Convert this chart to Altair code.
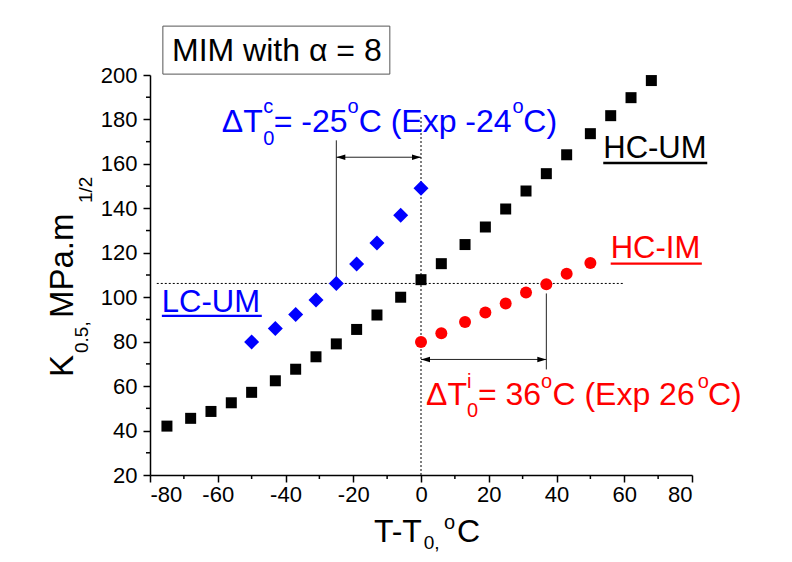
import altair as alt
import pandas as pd

# ---------------- data ----------------
hc_um_t = [-75, -68, -62, -56, -50, -43, -37, -31, -25, -19, -13, -6,
           0, 6, 13, 19, 25, 31, 37, 43, 50, 56, 62, 68]
hc_um_k = [42.0, 45.5, 48.6, 52.5, 57.2, 62.4, 67.6, 73.2, 79.0, 85.5, 92.0, 100.0,
           107.9, 115.1, 123.7, 131.6, 139.7, 147.8, 155.6, 164.1, 173.6, 181.7, 189.8, 197.5]
lc_um_t = [-50, -43, -37, -31, -25, -19, -13, -6, 0]
lc_um_k = [79.9, 85.9, 92.2, 98.7, 106.2, 115.0, 124.4, 136.9, 149.0]
hc_im_t = [0, 6, 13, 19, 25, 31, 37, 43, 50]
hc_im_k = [79.8, 83.8, 88.8, 93.1, 97.2, 102.1, 105.8, 110.6, 115.4]

x_ticks = [-80, -60, -40, -20, 0, 20, 40, 60, 80]
x_minor = [-70, -50, -30, -10, 10, 30, 50, 70]
y_ticks = [20, 40, 60, 80, 100, 120, 140, 160, 180, 200]
y_minor = [30, 50, 70, 90, 110, 130, 150, 170, 190]

k_ref = 106.2        # reference toughness level
dt_c = -25           # shift LC-UM
dt_i = 37            # shift HC-IM

FONT = "Liberation Sans"
BLUE = "#0000FF"
RED = "#FF0000"
BLACK = "#000000"

# ---------------- scales ----------------
xs = alt.Scale(domain=[-80, 80], nice=False, zero=False)
ys = alt.Scale(domain=[20, 200], nice=False, zero=False)

base_x_axis = alt.Axis(values=x_ticks, tickSize=7, tickWidth=1.5, domainWidth=1.5,
                       domainColor=BLACK, tickColor=BLACK, labelColor=BLACK,
                       labelFont=FONT, labelFontSize=22, labelPadding=2, grid=False,
                       title=None, labelExpr="datum.value + ''")
base_y_axis = alt.Axis(values=y_ticks, tickSize=7, tickWidth=1.5, domainWidth=1.5,
                       domainColor=BLACK, tickColor=BLACK, labelColor=BLACK,
                       labelFont=FONT, labelFontSize=22, labelPadding=6, grid=False,
                       title=None, labelExpr="datum.value + ''")

hc_um = pd.DataFrame({"t": hc_um_t, "k": hc_um_k})
lc_um = pd.DataFrame({"t": lc_um_t, "k": lc_um_k})
hc_im = pd.DataFrame({"t": hc_im_t, "k": hc_im_k})

axes_layer = alt.Chart(hc_um).mark_point(opacity=0).encode(
    x=alt.X("t:Q", scale=xs, axis=base_x_axis),
    y=alt.Y("k:Q", scale=ys, axis=base_y_axis),
)

# minor ticks
xminor = alt.Chart(pd.DataFrame({"v": x_minor})).mark_rule(color=BLACK, strokeWidth=1.5).encode(
    x=alt.X("v:Q", scale=xs), y=alt.value(400), y2=alt.value(404))
yminor = alt.Chart(pd.DataFrame({"v": y_minor})).mark_rule(color=BLACK, strokeWidth=1.5).encode(
    y=alt.Y("v:Q", scale=ys), x=alt.value(0), x2=alt.value(-4))

# guide lines
dotted = pd.DataFrame({
    "t": [0, -78], "t2": [0, 60], "k": [20, k_ref], "k2": [182, k_ref]})
dotted_layer = alt.Chart(dotted).mark_rule(color=BLACK, strokeWidth=1, strokeDash=[2, 2]).encode(
    x=alt.X("t:Q", scale=xs), x2="t2:Q", y=alt.Y("k:Q", scale=ys), y2="k2:Q")

solid = pd.DataFrame({
    "t": [dt_c, dt_c, dt_i, 0], "t2": [dt_c, 0, dt_i, dt_i],
    "k": [k_ref, 163, 67.5, 72], "k2": [170.6, 163, 101.7, 72]})
solid_layer = alt.Chart(solid).mark_rule(color="#222222", strokeWidth=1).encode(
    x=alt.X("t:Q", scale=xs), x2="t2:Q", y=alt.Y("k:Q", scale=ys), y2="k2:Q")

arrow_l = alt.Chart(pd.DataFrame({"t": [dt_c, 0], "k": [163, 72]})).mark_point(
    shape="M0,0L1,-0.3L1,0.3Z", size=324, filled=True, color=BLACK, opacity=1).encode(
    x=alt.X("t:Q", scale=xs), y=alt.Y("k:Q", scale=ys))
arrow_r = alt.Chart(pd.DataFrame({"t": [0, dt_i], "k": [163, 72]})).mark_point(
    shape="M0,0L-1,-0.3L-1,0.3Z", size=324, filled=True, color=BLACK, opacity=1).encode(
    x=alt.X("t:Q", scale=xs), y=alt.Y("k:Q", scale=ys))

# data series
sq = alt.Chart(hc_um).mark_point(shape="square", size=121, filled=True, color=BLACK, opacity=1).encode(
    x=alt.X("t:Q", scale=xs), y=alt.Y("k:Q", scale=ys))
dm = alt.Chart(lc_um).mark_point(shape="diamond", size=225, filled=True, color=BLUE, opacity=1).encode(
    x=alt.X("t:Q", scale=xs), y=alt.Y("k:Q", scale=ys))
ci = alt.Chart(hc_im).mark_point(shape="circle", size=144, filled=True, color=RED, opacity=1).encode(
    x=alt.X("t:Q", scale=xs), y=alt.Y("k:Q", scale=ys))

# label box
box = alt.Chart(pd.DataFrame({"t": [-76.2], "t2": [-9.2], "k": [222.0], "k2": [200.4]})).mark_rect(
    fill="white", stroke="#555555", strokeWidth=1).encode(
    x=alt.X("t:Q", scale=xs), x2="t2:Q", y=alt.Y("k:Q", scale=ys), y2="k2:Q")

# text pieces (anchor in data units, left aligned, alphabetic baseline)
texts = pd.DataFrame([
    # box label
    (-73.5, 206.3, "MIM with \u03b1 = 8", 32, BLACK, 0),
    # blue delta label
    (-58.8, 174.5, "\u0394T", 32, BLUE, 0),
    (-46.6, 168.5, "0", 20, BLUE, 0),
    (-46.6, 182.7, "c", 20, BLUE, 0),
    (-43.5, 174.5, "= -25", 32, BLUE, 0),
    (-21.7, 182.7, "o", 20, BLUE, 0),
    (-18.4, 174.5, "C (Exp -24", 32, BLUE, 0),
    (27.0, 182.7, "o", 20, BLUE, 0),
    (30.2, 174.5, "C)", 32, BLUE, 0),
    # red delta label
    (1.5, 51.5, "\u0394T", 32, RED, 0),
    (13.6, 46.2, "0", 20, RED, 0),
    (13.6, 59.2, "i", 20, RED, 0),
    (16.8, 51.5, "= 36", 32, RED, 0),
    (35.4, 59.2, "o", 20, RED, 0),
    (38.8, 51.5, "C (Exp 26", 32, RED, 0),
    (81.7, 59.2, "o", 20, RED, 0),
    (84.7, 51.5, "C)", 32, RED, 0),
    # series names
    (53.8, 162.5, "HC-UM", 31, BLACK, 0),
    (56.0, 117.5, "HC-IM", 31, RED, 0),
    (-76.5, 93.2, "LC-UM", 31, BLUE, 0),
    # x title
    (-13.9, -10.2, "T-T", 32, BLACK, 0),
    (0.8, -13.3, "0,", 19, BLACK, 0),
    (6.8, -4.3, "o", 20, BLACK, 0),
    (10.6, -10.2, "C", 32, BLACK, 0),
    # y title (rotated)
    (-102.8, 64.1, "K", 33, BLACK, 270),
    (-98.3, 74.9, "0.5,", 19, BLACK, 270),
    (-102.8, 90.6, " MPa.m", 33, BLACK, 270),
    (-97.1, 142.4, "1/2", 19, BLACK, 270),
], columns=["t", "k", "text", "size", "color", "angle"])

text_layer = alt.Chart(texts).mark_text(align="left", baseline="alphabetic", font=FONT).encode(
    x=alt.X("t:Q", scale=xs), y=alt.Y("k:Q", scale=ys), text="text:N",
    size=alt.Size("size:Q", scale=None), color=alt.Color("color:N", scale=None),
    angle=alt.Angle("angle:Q", scale=None))

underlines = pd.DataFrame({
    "t": [53.8, 56.0, -76.5], "t2": [84.5, 82.9, -47.0],
    "k": [160.4, 115.1, 91.6], "color": [BLACK, RED, BLUE]})
ul_layer = alt.Chart(underlines).mark_rule(strokeWidth=2.4).encode(
    x=alt.X("t:Q", scale=xs), x2="t2:Q", y=alt.Y("k:Q", scale=ys),
    color=alt.Color("color:N", scale=None))

chart = alt.layer(
    axes_layer, xminor, yminor, dotted_layer, solid_layer, arrow_l, arrow_r,
    sq, dm, ci, box, text_layer, ul_layer
).properties(
    width=542, height=400,
    padding={"left": 142, "top": 67, "right": 80, "bottom": 79},
    autosize=alt.AutoSizeParams(type="none"),
    background="white",
).configure_view(stroke=None)

chart.save("out.html", embed_options={"renderer": "svg", "actions": False})
